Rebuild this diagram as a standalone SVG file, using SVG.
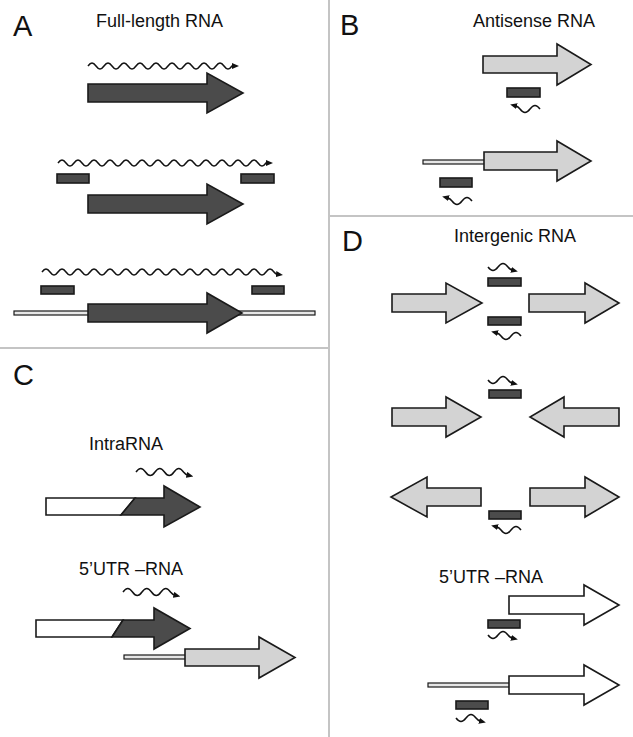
<svg xmlns="http://www.w3.org/2000/svg" width="633" height="737" viewBox="0 0 633 737">
<style>
.lbl{font-family:"Liberation Sans",Arial,sans-serif;font-size:29px;fill:#111}
.ttl{font-family:"Liberation Sans",Arial,sans-serif;font-size:18px;fill:#111}
.dk{fill:#4b4b4b;stroke:#1a1a1a;stroke-width:1.6;stroke-linejoin:miter}
.lt{fill:#d3d3d3;stroke:#1a1a1a;stroke-width:1.6}
.wh{fill:#fff;stroke:#1a1a1a;stroke-width:1.6}
.ln{fill:#e6e6e6;stroke:#1a1a1a;stroke-width:1.2}
.wv{fill:none;stroke:#111;stroke-width:1.5;marker-end:url(#ah)}
.div{stroke:#c4c4c4;stroke-width:2;fill:none}
</style>
<defs>
<marker id="ah" markerUnits="userSpaceOnUse" markerWidth="7" markerHeight="6" viewBox="0 0 7 6" refX="1" refY="3" orient="auto">
<path d="M0,0 L7,3 L0,6 z" fill="#111"/>
</marker>
</defs>
<rect width="633" height="737" fill="#fff"/>
<g id="dividers">
<line class="div" x1="329" y1="0" x2="329" y2="737"/>
<line class="div" x1="0" y1="348" x2="329" y2="348"/>
<line class="div" x1="329" y1="216" x2="633" y2="216"/>
</g>

<g id="panelA">
<text class="lbl" x="13" y="36">A</text>
<text class="ttl" x="96" y="27">Full-length RNA</text>
<g id="A-row1">
<path class="wv" d="M88,66 c2.9,-4 5.1,-4 8,0 s5.1,4 8,0 s5.1,-4 8,0 s5.1,4 8,0 s5.1,-4 8,0 s5.1,4 8,0 s5.1,-4 8,0 s5.1,4 8,0 s5.1,-4 8,0 s5.1,4 8,0 s5.1,-4 8,0 s5.1,4 8,0 s5.1,-4 8,0 s5.1,4 8,0 s5.1,-4 8,0 s5.1,4 8,0 s5.1,-4 8,0 s5.1,4 8,0 h1"/>
<polygon class="dk" points="88,84 207,84 207,73 243,93 207,113 207,102 88,102"/>
</g>
<g id="A-row2">
<path class="wv" d="M58,163 c2.9,-4 5.1,-4 8,0 s5.1,4 8,0 s5.1,-4 8,0 s5.1,4 8,0 s5.1,-4 8,0 s5.1,4 8,0 s5.1,-4 8,0 s5.1,4 8,0 s5.1,-4 8,0 s5.1,4 8,0 s5.1,-4 8,0 s5.1,4 8,0 s5.1,-4 8,0 s5.1,4 8,0 s5.1,-4 8,0 s5.1,4 8,0 s5.1,-4 8,0 s5.1,4 8,0 s5.1,-4 8,0 s5.1,4 8,0 s5.1,-4 8,0 s5.1,4 8,0 s5.1,-4 8,0 s5.1,4 8,0 s5.1,-4 8,0 s5.1,4 8,0 h1"/>
<rect class="dk" x="57" y="174" width="32" height="9"/>
<rect class="dk" x="241" y="174" width="33" height="9"/>
<polygon class="dk" points="88,195 207,195 207,184 243,204 207,224 207,213 88,213"/>
</g>
<g id="A-row3">
<path class="wv" d="M42,272 c2.9,-4 5.1,-4 8,0 s5.1,4 8,0 s5.1,-4 8,0 s5.1,4 8,0 s5.1,-4 8,0 s5.1,4 8,0 s5.1,-4 8,0 s5.1,4 8,0 s5.1,-4 8,0 s5.1,4 8,0 s5.1,-4 8,0 s5.1,4 8,0 s5.1,-4 8,0 s5.1,4 8,0 s5.1,-4 8,0 s5.1,4 8,0 s5.1,-4 8,0 s5.1,4 8,0 s5.1,-4 8,0 s5.1,4 8,0 s5.1,-4 8,0 s5.1,4 8,0 s5.1,-4 8,0 s5.1,4 8,0 s5.1,-4 8,0 s5.1,4 8,0 s5.1,-4 8,0 s5.1,4 8,0 s5.1,-4 8,0 q1.5,2 3,2.2"/>
<rect class="dk" x="41" y="286" width="33" height="8"/>
<rect class="dk" x="252" y="286" width="32" height="8"/>
<rect class="ln" x="14" y="311" width="301" height="4"/>
<polygon class="dk" points="88,304 207,304 207,293 242,313 207,333 207,322 88,322"/>
</g>
</g>

<g id="panelB">
<text class="lbl" x="340" y="35">B</text>
<text class="ttl" x="473" y="27">Antisense RNA</text>
<g id="B-row1">
<polygon class="lt" points="483,56 557,56 557,44 591,64.5 557,85 557,73 483,73"/>
<rect class="dk" x="507" y="88" width="33" height="9"/>
<path class="wv" d="M540,109 c-3.6,-4.7 -6.4,-4.7 -10,0 s-6.4,4.7 -10,0 q-2,-2.5 -4,-3"/>
</g>
<g id="B-row2">
<rect class="ln" x="423" y="160" width="62" height="4"/>
<polygon class="lt" points="484,152 557,152 557,141 591,161 557,181 557,170 484,170"/>
<rect class="dk" x="440" y="178" width="32" height="9"/>
<path class="wv" d="M472,201 c-3.6,-4.7 -6.4,-4.7 -10,0 s-6.4,4.7 -10,0 q-2,-2.5 -4,-3"/>
</g>
</g>

<g id="panelC">
<text class="lbl" x="13" y="385">C</text>
<g id="C-intra">
<text class="ttl" x="89" y="450">IntraRNA</text>
<path class="wv" d="M136,472 c3.4,-4.7 6.1,-4.7 9.5,0 s6.1,4.7 9.5,0 s6.1,-4.7 9.5,0 s6.1,4.7 9.5,0 s6.1,-4.7 9.5,0 q2,2.5 4,3"/>
<polygon class="wh" points="46,498 135,498 121,515 46,515"/>
<polygon class="dk" points="135,498 164,498 164,486 200,507 164,527 164,515 121,515"/>
</g>
<g id="C-utr">
<text class="ttl" x="79" y="575">5’UTR –RNA</text>
<path class="wv" d="M123,592 c3.4,-4.7 6.1,-4.7 9.5,0 s6.1,4.7 9.5,0 s6.1,-4.7 9.5,0 s6.1,4.7 9.5,0 s6.1,-4.7 9.5,0 q2,2.5 4,3"/>
<polygon class="wh" points="36,620 123,620 112,637 36,637"/>
<polygon class="dk" points="123,620 154,620 154,608 190,628.5 154,649 154,637 112,637"/>
<rect class="ln" x="124" y="655" width="62" height="4"/>
<polygon class="lt" points="185,649 259,649 259,637 295,657.5 259,678 259,666 185,666"/>
</g>
</g>

<g id="panelD">
<text class="lbl" x="342" y="251">D</text>
<text class="ttl" x="454" y="242">Intergenic RNA</text>
<g id="D-row1">
<path class="wv" d="M488,267 c3.6,4.7 6.4,4.7 10,0 s6.4,-4.7 10,0 q2,2.5 4,3"/>
<rect class="dk" x="488" y="278" width="33" height="8"/>
<polygon class="lt" points="392,294 446,294 446,283 482,303 446,323 446,312 392,312"/>
<polygon class="lt" points="529,294 585,294 585,283 619,303 585,323 585,312 529,312"/>
<rect class="dk" x="488" y="317" width="33" height="8"/>
<path class="wv" d="M521,336 c-3.6,-4.7 -6.4,-4.7 -10,0 s-6.4,4.7 -10,0 q-2,-2.5 -4,-3"/>
</g>
<g id="D-row2">
<path class="wv" d="M488,380 c3.6,4.7 6.4,4.7 10,0 s6.4,-4.7 10,0 q2,2.5 4,3"/>
<rect class="dk" x="489" y="390" width="32" height="8"/>
<polygon class="lt" points="392,408 446,408 446,397 481,417 446,437 446,426 392,426"/>
<polygon class="lt" points="619,408 564,408 564,397 530,417 564,437 564,426 619,426"/>
</g>
<g id="D-row3">
<polygon class="lt" points="481,488 427,488 427,477 391,497 427,517 427,506 481,506"/>
<polygon class="lt" points="530,488 585,488 585,477 619,497 585,517 585,506 530,506"/>
<rect class="dk" x="489" y="511" width="32" height="8"/>
<path class="wv" d="M521,530 c-3.6,-4.7 -6.4,-4.7 -10,0 s-6.4,4.7 -10,0 q-2,-2.5 -4,-3"/>
</g>
<g id="D-utr1">
<text class="ttl" x="439" y="583">5’UTR –RNA</text>
<polygon class="wh" points="509,596 584,596 584,585 619,605 584,625 584,614 509,614"/>
<rect class="dk" x="488" y="620" width="32" height="8"/>
<path class="wv" d="M488,635 c3.6,4.7 6.4,4.7 10,0 s6.4,-4.7 10,0 q2,2.5 4,3"/>
</g>
<g id="D-utr2">
<rect class="ln" x="428" y="683" width="82" height="4"/>
<polygon class="wh" points="509,676 584,676 584,665 619,685 584,705 584,694 509,694"/>
<rect class="dk" x="456" y="701" width="32" height="8"/>
<path class="wv" d="M456,718 c3.6,4.7 6.4,4.7 10,0 s6.4,-4.7 10,0 q2,2.5 4,3"/>
</g>
</g>
</svg>
